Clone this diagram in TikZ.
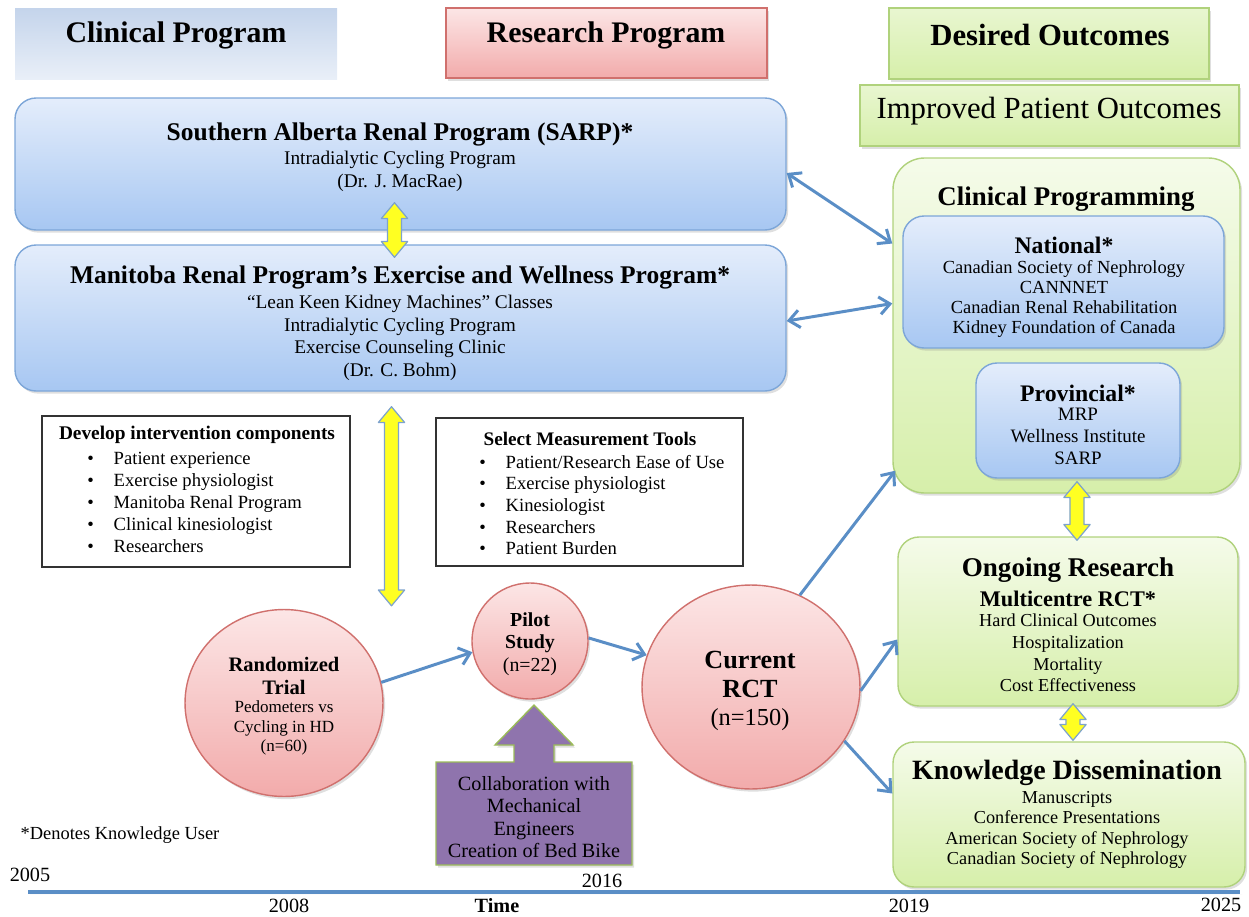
\documentclass[tikz,border=0pt]{standalone}
\usepackage{fontspec}
\setmainfont{Liberation Serif}
\usetikzlibrary{positioning,calc,fit,shapes.geometric,shadows,arrows.meta}

\definecolor{blueTop}{HTML}{E4EDFB}
\definecolor{blueBot}{HTML}{A7C7F2}
\definecolor{blueLine}{HTML}{7DA6D8}
\definecolor{headTop}{HTML}{C4D4EB}
\definecolor{headBot}{HTML}{E9EFF8}
\definecolor{pinkTop}{HTML}{FCE6E6}
\definecolor{pinkBot}{HTML}{F2ABAB}
\definecolor{pinkLine}{HTML}{D0706D}
\definecolor{greenTop}{HTML}{F5FBEA}
\definecolor{greenBot}{HTML}{D6EFAA}
\definecolor{greenLine}{HTML}{B0D27C}
\definecolor{purpleFill}{HTML}{8F74AD}
\definecolor{purpleLine}{HTML}{9BBB59}
\definecolor{linkBlue}{HTML}{5A8EC6}
\definecolor{yellowFill}{HTML}{FFFF22}
\definecolor{yellowLine}{HTML}{7EA3CC}

\newcommand{\fs}[2]{\fontsize{#1}{#2}\selectfont}
\newcommand{\bul}{\makebox[15pt][l]{\textbullet}}
% yellow double arrow from (top) to (bottom)
\newcommand{\ydouble}[2]{%
  \draw[yarrow] let \p1=#1, \p2=#2 in
    (\x1,\y1) -- (\x1+7.5pt,\y1-9pt) -- (\x1+4pt,\y1-9pt) -- (\x1+4pt,\y2+9pt)
    -- (\x1+7.5pt,\y2+9pt) -- (\x1,\y2) -- (\x1-7.5pt,\y2+9pt) -- (\x1-4pt,\y2+9pt)
    -- (\x1-4pt,\y1-9pt) -- (\x1-7.5pt,\y1-9pt) -- cycle;}

\tikzset{
  shade/.style={drop shadow={opacity=0.25,shadow xshift=1.2pt,shadow yshift=-1.5pt}},
  bluebox/.style={draw=blueLine, line width=0.8pt, rounded corners=12pt, top color=blueTop, bottom color=blueBot, inner sep=0pt, shade},
  greenbox/.style={draw=greenLine, line width=0.8pt, rounded corners=12pt, top color=greenTop, bottom color=greenBot, inner sep=0pt, shade},
  greenhead/.style={draw=greenLine, line width=0.8pt, top color=greenTop!60!greenBot, bottom color=greenBot, inner sep=0pt, shade},
  pinkhead/.style={draw=pinkLine, line width=0.8pt, top color=pinkTop, bottom color=pinkBot, inner sep=0pt, shade},
  bluehead/.style={top color=headTop, bottom color=headBot, inner sep=0pt},
  pinkcirc/.style={ellipse, draw=pinkLine, line width=0.8pt, top color=pinkTop, bottom color=pinkBot, inner sep=0pt, shade},
  listbox/.style={draw=black!80, line width=0.8pt, fill=white, inner sep=0pt},
  txt/.style={inner sep=0pt, align=center},
  link/.style={draw=linkBlue, line width=1.7pt, -{Straight Barb[length=6pt,width=10pt]}},
  biglink/.style={link, {Straight Barb[length=6pt,width=10pt]}-{Straight Barb[length=6pt,width=10pt]}},
  yarrow/.style={draw=yellowLine, fill=yellowFill, line width=0.7pt, line join=round}
}

\begin{document}
\begin{tikzpicture}[x=0.02cm, y=-0.02cm]
\useasboundingbox (0,0) rectangle (1249,917);

% column heads
\node[bluehead, fit={(15,8) (337,79)}] (clinhd) {};
\node[txt, font=\fs{17}{20}\bfseries] (clinhdtxt) at (176,35) {Clinical Program};
\node[pinkhead, fit={(446,8) (767,78)}] (reshd) {};
\node[txt, font=\fs{17}{20}\bfseries] (reshdtxt) at (606,35) {Research Program};
\node[greenhead, fit={(889,8) (1209,79)}] (deshd) {};
\node[txt, font=\fs{17.5}{20}\bfseries] (deshdtxt) at (1050,35) {Desired Outcomes};
\node[greenhead, fit={(860,85) (1239,146)}] (impr) {};
\node[txt, font=\fs{17.5}{20}] (imprtxt) at (1049,111) {Improved Patient Outcomes};

% clinical programs
\node[bluebox, fit={(15,98) (786,230)}] (sarp) {};
\node[txt, font=\fs{14.5}{17}\bfseries] (sarptitle) at (400,134) {Southern Alberta Renal Program (SARP)*};
\node[txt, font=\fs{11}{13}] (sarpbody) at (400,171) {Intradialytic Cycling Program\\(Dr. J. MacRae)};

\node[bluebox, fit={(15,245) (786,391)}] (manit) {};
\node[txt, font=\fs{14.5}{17}\bfseries] (manittitle) at (400,277) {Manitoba Renal Program’s Exercise and Wellness Program*};
\node[txt, font=\fs{11}{12.9}] (manitbody) at (400,338) {“Lean Keen Kidney Machines” Classes\\Intradialytic Cycling Program\\Exercise Counseling Clinic\\(Dr. C. Bohm)};

% desired outcomes
\node[greenbox, rounded corners=18pt, fit={(893,158) (1240,493)}] (cp) {};
\node[txt, font=\fs{15.3}{18}\bfseries] (cptitle) at (1066,199) {Clinical Programming};
\node[bluebox, fit={(903,216) (1224,348)}] (natl) {};
\node[txt, font=\fs{13.5}{16}\bfseries] (natltitle) at (1064,245) {National*};
\node[txt, font=\fs{10.5}{11.5}] (natlbody) at (1064,299) {Canadian Society of Nephrology\\CANNNET\\Canadian Renal Rehabilitation\\Kidney Foundation of Canada};
\node[bluebox, fit={(976,363) (1180,478)}] (prov) {};
\node[txt, font=\fs{13.5}{16}\bfseries] (provtitle) at (1078,393) {Provincial*};
\node[txt, font=\fs{10.8}{12.5}] (provbody) at (1078,436) {MRP\\Wellness Institute\\SARP};

\node[greenbox, fit={(898,537) (1238,706)}] (ongo) {};
\node[txt, font=\fs{15.4}{18}\bfseries] (ongotitle) at (1068,570) {Ongoing Research};
\node[txt, font=\fs{12.7}{15}\bfseries] (ongosub) at (1068,599) {Multicentre RCT*};
\node[txt, font=\fs{10.4}{12.3}] (ongobody) at (1068,653) {Hard Clinical Outcomes\\Hospitalization\\Mortality\\Cost Effectiveness};

\node[greenbox, fit={(893,742) (1245,887)}] (know) {};
\node[txt, font=\fs{15.9}{18}\bfseries] (knowtitle) at (1067,773) {Knowledge Dissemination};
\node[txt, font=\fs{10.4}{11.7}] (knowbody) at (1067,830) {Manuscripts\\Conference Presentations\\American Society of Nephrology\\Canadian Society of Nephrology};

% lists
\node[listbox, fit={(42,416) (350,567)}] (devbox) {};
\node[txt, font=\fs{11}{13}\bfseries] (devtitle) at (197,435) {Develop intervention components};
\node[txt, align=left, anchor=west, font=\fs{10.6}{12.5}] (devlist) at (87,502) {\bul Patient experience\\\bul Exercise physiologist\\\bul Manitoba Renal Program\\\bul Clinical kinesiologist\\\bul Researchers};
\node[listbox, fit={(436,418) (743,566)}] (selbox) {};
\node[txt, font=\fs{10.9}{13}\bfseries] (seltitle) at (590,439) {Select Measurement Tools};
\node[txt, align=left, anchor=west, font=\fs{10.6}{12.3}] (sellist) at (479,505) {\bul Patient/Research Ease of Use\\\bul Exercise physiologist\\\bul Kinesiologist\\\bul Researchers\\\bul Patient Burden};

% research program
\node[pinkcirc, minimum width=3.96cm, minimum height=3.74cm] (rand) at (284,703) {};
\node[txt, font=\fs{11.7}{13}\bfseries] (randtitle) at (284,676) {Randomized\\Trial};
\node[txt, font=\fs{9.7}{11}] (randbody) at (284,728) {Pedometers vs\\Cycling in HD\\(n=60)};
\node[pinkcirc, minimum width=2.32cm, minimum height=2.32cm] (pilot) at (530,641) {};
\node[txt, font=\fs{11.3}{12.75}] (pilottxt) at (530,644) {\textbf{Pilot}\\\textbf{Study}\\(n=22)};
\node[pinkcirc, minimum width=4.36cm, minimum height=4.08cm] (rct) at (751,687) {};
\node[txt, font=\fs{14.9}{16.4}] (rcttxt) at (750,691) {\textbf{Current}\\\textbf{RCT}\\{\fs{13.9}{16.4}(n=150)}};

\draw[draw=purpleLine, fill=purpleFill, line width=0.8pt, shade] (436,762) -- (514,762) -- (514,745) -- (495,745) -- (534,705) -- (573,745) -- (554,745) -- (554,762) -- (632,762) -- (632,865) -- (436,865) -- cycle;
\node[txt, font=\fs{11.5}{12.7}] (collab) at (534,817) {Collaboration with\\Mechanical\\Engineers\\Creation of Bed Bike};

% connectors
\draw[link] (rand.12) -- (pilot.191);
\draw[link] (pilot.3) -- (rct.163);
\draw[link] (rct.62) -- ($(cp.south west)+(3,-23)$);
\draw[link] (rct.358) -- ($(ongo.west)+(0,18)$);
\draw[link] (rct.330) -- ($(know.west)+(0,-21)$);
\draw[biglink] ($(sarp.east)+(0,9)$) -- ($(cp.west)+(0,-82)$);
\draw[biglink] ($(manit.east)+(0,3)$) -- ($(cp.west)+(0,-22)$);

\ydouble{($(sarp.south)+(-6,-28)$)}{($(manit.north)+(-6,13)$)}
\ydouble{($(manit.south)+(-9,15)$)}{($(rand.north)+(107,-3)$)}
\ydouble{($(prov.south)+(-1,3)$)}{($(ongo.north)+(9,4)$)}
\ydouble{($(ongo.south)+(5,-3)$)}{($(know.north)+(4,-1)$)}

% time line
\coordinate (tstart) at (28,892);
\coordinate (tend) at (1240,892);
\draw[draw=linkBlue, line width=2.3pt, shade] (tstart) -- (tend);
\node[txt, font=\fs{11.5}{13}] (y2005) at (30,875) {2005};
\node[txt, font=\fs{11.5}{13}] (y2016) at (602,881) {2016};
\node[txt, font=\fs{11.5}{13}] (y2008) at (289,906) {2008};
\node[txt, font=\fs{11.5}{13}\bfseries] (tlabel) at (497,906) {Time};
\node[txt, font=\fs{11.5}{13}] (y2019) at (909,906) {2019};
\node[txt, font=\fs{11.5}{13}] (y2025) at (1221,905) {2025};
\node[txt, font=\fs{10.5}{12}] (note) at (120,835) {*Denotes Knowledge User};
\end{tikzpicture}
\end{document}
